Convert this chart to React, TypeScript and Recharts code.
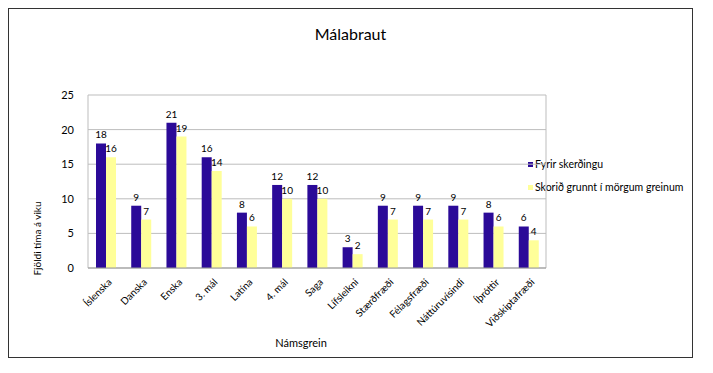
import React from "react";
import { BarChart, Bar, XAxis, YAxis, CartesianGrid, LabelList } from "recharts";

const categories = [
  "Íslenska",
  "Danska",
  "Enska",
  "3. mál",
  "Latína",
  "4. mál",
  "Saga",
  "Lífsleikni",
  "Stærðfræði",
  "Félagsfræði",
  "Náttúruvísindi",
  "Íþróttir",
  "Viðskiptafræði",
];
const fyrirSkerdingu = [18, 9, 21, 16, 8, 12, 12, 3, 9, 9, 9, 8, 6];
const skoridGrunnt = [16, 7, 19, 14, 6, 10, 10, 2, 7, 7, 7, 6, 4];
const yTicks = [0, 5, 10, 15, 20, 25];
const seriesNames = ["Fyrir skerðingu", "Skorið grunnt í mörgum greinum"];

const data = categories.map((c, i) => ({
  name: c,
  a: fyrirSkerdingu[i],
  b: skoridGrunnt[i],
}));

const FONT = "Lato, 'Open Sans', sans-serif";
const BLUE = "#2B0A98";
const YELLOW = "#FFFF99";

const XTick = (props: any) => {
  const { x, y, payload } = props;
  return (
    <g transform={`translate(${x + 4},${y + 4})`}>
      <text
        x={0}
        y={0}
        dy={4}
        textAnchor="end"
        transform="rotate(-45)"
        fontSize={10}
        fontFamily={FONT}
        fill="#000"
      >
        {payload.value}
      </text>
    </g>
  );
};

const LegendBox = () => (
  <div
    style={{
      position: "absolute",
      left: 519,
      top: 149,
      fontFamily: FONT,
      fontSize: 10.5,
      color: "#000",
      lineHeight: "13px",
    }}
  >
    {seriesNames.map((n, i) => (
      <div key={n} style={{ display: "flex", alignItems: "center", height: 13, marginBottom: i === 0 ? 10 : 0 }}>
        <span
          style={{
            display: "inline-block",
            width: 5,
            height: 5,
            background: i === 0 ? BLUE : YELLOW,
            marginRight: 2,
          }}
        />
        <span style={{ whiteSpace: "nowrap" }}>{n}</span>
      </div>
    ))}
  </div>
);

export default function App() {
  return (
    <div
      style={{
        width: 685,
        height: 350,
        border: "1px solid #333",
        boxSizing: "border-box",
        position: "relative",
        background: "#fff",
      }}
    >
      <div
        style={{
          position: "absolute",
          left: 0,
          width: 683,
          top: 15,
          textAlign: "center",
          fontFamily: FONT,
          fontSize: 16,
          color: "#000",
        }}
      >
        Málabraut
      </div>
      <LegendBox />
      <BarChart
        width={683}
        height={348}
        data={data}
        margin={{ top: 86, right: 146, bottom: 29, left: 49 }}
        barGap={0}
        barSize={10}
      >
        <CartesianGrid
          stroke="#BDBDBD"
          vertical={true}
          horizontal={true}
          verticalCoordinatesGenerator={({ offset }: any) => [offset.left, offset.left + offset.width]}
        />
        <XAxis
          dataKey="name"
          interval={0}
          tick={<XTick />}
          tickLine={false}
          axisLine={{ stroke: "#999" }}
          height={60}
          label={{
            value: "Námsgrein",
            position: "insideBottom",
            offset: -19,
            dx: -16,
            fontSize: 11,
            fontFamily: FONT,
            fill: "#000",
          }}
        />
        <YAxis
          domain={[0, 25]}
          ticks={yTicks}
          width={30}
          tickLine={false}
          axisLine={false}
          tick={{ fontSize: 11, fontFamily: FONT, fill: "#000" }}
          tickMargin={8}
          label={{
            value: "Fjöldi tíma á viku",
            angle: -90,
            position: "insideLeft",
            dx: -26,
            dy: 57,
            fontSize: 10,
            fontFamily: FONT,
            fill: "#000",
            style: { textAnchor: "middle" },
          }}
        />
        <Bar dataKey="a" name={seriesNames[0]} fill={BLUE} isAnimationActive={false}>
          <LabelList dataKey="a" position="top" offset={5} fontSize={10} fontFamily={FONT} fill="#000" />
        </Bar>
        <Bar dataKey="b" name={seriesNames[1]} fill={YELLOW} isAnimationActive={false}>
          <LabelList dataKey="b" position="top" offset={5} fontSize={10} fontFamily={FONT} fill="#000" />
        </Bar>
      </BarChart>
    </div>
  );
}
